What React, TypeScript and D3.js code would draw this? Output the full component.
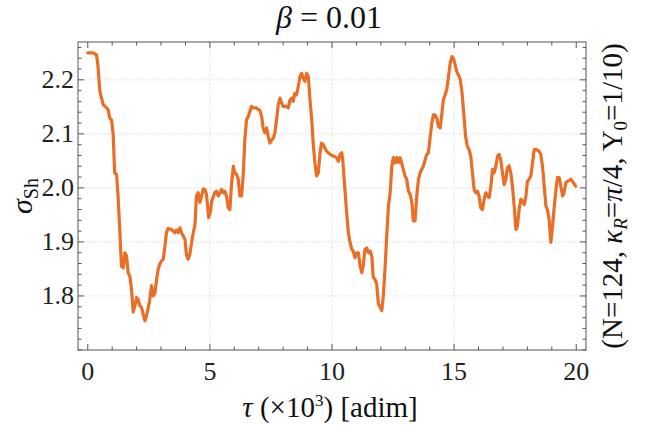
import React, { useEffect, useRef } from 'react';
import * as d3 from 'd3';

// tau (x10^3) and sigma_Sh
const tau = [
  0.0, 0.22, 0.36, 0.42, 0.49, 0.63, 0.77, 0.83, 0.9, 0.97, 1.04, 1.1, 1.18, 1.24, 1.31, 1.38, 1.45, 1.52, 1.59, 1.65,
  1.72, 1.79, 1.86, 1.93, 2.0, 2.06, 2.13, 2.2, 2.27, 2.34, 2.4, 2.47, 2.54, 2.61, 2.68, 2.75, 2.82, 2.88, 2.95, 3.02,
  3.09, 3.16, 3.22, 3.29, 3.43, 3.5, 3.57, 3.63, 3.7, 3.77, 3.84, 3.91, 3.98, 4.04, 4.11, 4.18, 4.25, 4.32, 4.39, 4.45,
  4.52, 4.59, 4.66, 4.73, 4.8, 4.86, 4.95, 5.03, 5.07, 5.2, 5.27, 5.34, 5.41, 5.48, 5.55, 5.61, 5.68, 5.75, 5.82, 5.89,
  5.96, 6.02, 6.09, 6.16, 6.23, 6.3, 6.37, 6.43, 6.5, 6.57, 6.64, 6.7, 6.77, 6.91, 7.05, 7.12, 7.18, 7.25, 7.32, 7.39,
  7.46, 7.53, 7.6, 7.66, 7.73, 7.8, 7.87, 7.94, 8.0, 8.14, 8.21, 8.28, 8.35, 8.41, 8.48, 8.55, 8.62, 8.69, 8.76, 8.82,
  8.89, 8.96, 9.03, 9.1, 9.17, 9.23, 9.3, 9.37, 9.44, 9.51, 9.57, 9.64, 9.71, 9.78, 9.92, 10.05, 10.19, 10.26, 10.33, 10.4,
  10.44, 10.53, 10.6, 10.67, 10.74, 10.81, 10.87, 10.94, 11.01, 11.08, 11.15, 11.22, 11.28, 11.35, 11.42, 11.49, 11.56, 11.63, 11.69, 11.76,
  11.83, 11.9, 11.97, 12.04, 12.1, 12.17, 12.24, 12.31, 12.38, 12.45, 12.51, 12.58, 12.65, 12.72, 12.79, 12.85, 12.92, 12.99, 13.06, 13.13,
  13.2, 13.27, 13.33, 13.4, 13.47, 13.54, 13.61, 13.67, 13.74, 13.81, 13.88, 13.95, 14.02, 14.09, 14.15, 14.22, 14.29, 14.36, 14.43, 14.5,
  14.56, 14.63, 14.7, 14.77, 14.84, 14.91, 14.97, 15.04, 15.11, 15.18, 15.25, 15.32, 15.4, 15.47, 15.54, 15.61, 15.68, 15.75, 15.82, 15.89,
  15.96, 16.02, 16.09, 16.16, 16.23, 16.3, 16.37, 16.43, 16.5, 16.57, 16.64, 16.71, 16.78, 16.84, 16.91, 16.98, 17.05, 17.12, 17.18, 17.25,
  17.32, 17.39, 17.46, 17.53, 17.59, 17.66, 17.73, 17.8, 17.87, 17.94, 18.0, 18.07, 18.14, 18.21, 18.28, 18.35, 18.48, 18.55, 18.62, 18.69,
  18.76, 18.82, 18.89, 18.96, 19.03, 19.1, 19.17, 19.23, 19.3, 19.37, 19.44, 19.5, 19.57, 19.64, 19.78, 19.85, 19.98,
];

const sigma = [
  2.25, 2.25, 2.246, 2.225, 2.18, 2.154, 2.148, 2.145, 2.129, 2.126, 2.1, 2.028, 2.025, 1.985, 1.923, 1.855, 1.852, 1.88, 1.874, 1.843,
  1.837, 1.813, 1.77, 1.782, 1.797, 1.794, 1.782, 1.779, 1.766, 1.754, 1.763, 1.776, 1.794, 1.819, 1.8, 1.806, 1.831, 1.849, 1.859, 1.865,
  1.868, 1.892, 1.917, 1.925, 1.923, 1.92, 1.917, 1.922, 1.917, 1.926, 1.917, 1.911, 1.905, 1.877, 1.868, 1.877, 1.899, 1.917, 1.932, 1.985,
  1.991, 1.973, 1.985, 1.998, 1.997, 1.988, 1.945, 1.958, 1.975, 1.991, 1.994, 1.985, 1.991, 1.997, 1.991, 1.994, 1.985, 1.963, 1.96, 2.009,
  2.04, 2.028, 2.025, 2.016, 1.985, 1.985, 2.028, 2.089, 2.126, 2.132, 2.142, 2.151, 2.148, 2.148, 2.143, 2.132, 2.111, 2.102, 2.111, 2.095,
  2.083, 2.089, 2.092, 2.102, 2.126, 2.154, 2.166, 2.157, 2.151, 2.151, 2.148, 2.163, 2.166, 2.16, 2.175, 2.172, 2.188, 2.206, 2.212, 2.203,
  2.197, 2.212, 2.206, 2.163, 2.126, 2.083, 2.046, 2.022, 2.028, 2.065, 2.083, 2.08, 2.074, 2.068, 2.062, 2.059, 2.056, 2.049, 2.062, 2.065,
  2.052, 1.997, 1.954, 1.917, 1.899, 1.886, 1.883, 1.871, 1.88, 1.88, 1.856, 1.843, 1.856, 1.886, 1.889, 1.88, 1.883, 1.874, 1.834, 1.831,
  1.822, 1.785, 1.779, 1.773, 1.8, 1.849, 1.911, 1.966, 1.991, 2.04, 2.056, 2.046, 2.056, 2.047, 2.056, 2.046, 2.034, 2.022, 2.016, 1.994,
  1.988, 1.973, 1.939, 1.939, 1.985, 2.016, 2.028, 2.034, 2.04, 2.052, 2.062, 2.065, 2.095, 2.12, 2.135, 2.135, 2.129, 2.114, 2.111, 2.138,
  2.163, 2.172, 2.182, 2.206, 2.231, 2.243, 2.24, 2.228, 2.215, 2.209, 2.2, 2.178, 2.135, 2.095, 2.077, 2.071, 2.059, 2.028, 1.997, 1.991,
  1.994, 1.985, 1.963, 1.96, 1.979, 1.991, 1.985, 1.982, 2.0, 2.034, 2.028, 2.04, 2.059, 2.062, 2.052, 2.028, 2.006, 2.016, 2.037, 2.041,
  2.028, 2.003, 1.966, 1.923, 1.929, 1.96, 1.979, 1.976, 1.969, 1.985, 2.012, 2.016, 2.022, 2.046, 2.071, 2.071, 2.068, 2.062, 2.04, 2.003,
  1.966, 1.96, 1.942, 1.899, 1.929, 1.966, 1.997, 2.019, 2.019, 2.003, 1.985, 1.991, 2.009, 2.012, 2.016, 2.012, 2.003,
];

const xMajor = [0, 5, 10, 15, 20];
const xGrid = [5, 10, 15];
const yMajor = [1.8, 1.9, 2.0, 2.1, 2.2];

const W = 645;
const H = 426;
const serif = "'Liberation Serif', 'Times New Roman', serif";

export default function App() {
  const ref = useRef<SVGSVGElement>(null);

  useEffect(() => {
    const svg = d3.select(ref.current);
    svg.selectAll('*').remove();

    const left = 78, right = 586, top = 42, bottom = 350;

    const x = d3.scaleLinear().domain([-0.4, 20.4]).range([left, right]);
    const y = d3.scaleLinear().domain([1.7, 2.27]).range([bottom, top]);

    const xMinor = d3.range(0, 21, 1).filter((d) => !xMajor.includes(d));
    const yMinor = d3.range(1.7, 2.27, 0.02).map((d) => +d.toFixed(2))
      .filter((d) => !yMajor.some((m) => Math.abs(m - d) < 1e-6));

    // grid
    const grid = svg.append('g').attr('stroke', '#c8c8c8').attr('stroke-width', 0.8).attr('stroke-dasharray', '1.2,2');
    grid.selectAll('.gx').data(xGrid).enter().append('line')
      .attr('x1', (d) => x(d)).attr('x2', (d) => x(d))
      .attr('y1', top).attr('y2', bottom);
    grid.selectAll('.gy').data(yMajor).enter().append('line')
      .attr('x1', left).attr('x2', right)
      .attr('y1', (d) => y(d)).attr('y2', (d) => y(d));

    // the curve
    const pts: [number, number][] = tau.map((t, i) => [t, sigma[i]]);
    const line = d3.line<[number, number]>().x((d) => x(d[0])).y((d) => y(d[1]));
    svg.append('path')
      .datum(pts)
      .attr('d', line)
      .attr('fill', 'none')
      .attr('stroke', '#ea6e26')
      .attr('stroke-width', 3.2)
      .attr('stroke-linejoin', 'round')
      .attr('stroke-linecap', 'round');

    // frame
    svg.append('rect')
      .attr('x', left).attr('y', top)
      .attr('width', right - left).attr('height', bottom - top)
      .attr('fill', 'none').attr('stroke', '#555').attr('stroke-width', 1);

    // ticks on all four sides, pointing in
    const tk = svg.append('g').attr('stroke', '#555').attr('stroke-width', 1);
    const xTicks = [...xMajor.map((v) => [v, 6]), ...xMinor.map((v) => [v, 3.5])];
    const yTicks = [...yMajor.map((v) => [v, 6]), ...yMinor.map((v) => [v, 3.5])];
    xTicks.forEach(([v, len]) => {
      tk.append('line').attr('x1', x(v)).attr('x2', x(v)).attr('y1', bottom).attr('y2', bottom - len);
      tk.append('line').attr('x1', x(v)).attr('x2', x(v)).attr('y1', top).attr('y2', top + len);
    });
    yTicks.forEach(([v, len]) => {
      tk.append('line').attr('x1', left).attr('x2', left + len).attr('y1', y(v)).attr('y2', y(v));
      tk.append('line').attr('x1', right).attr('x2', right - len).attr('y1', y(v)).attr('y2', y(v));
    });

    // tick labels
    svg.append('g').selectAll('text').data(xMajor).enter().append('text')
      .attr('x', (d) => x(d)).attr('y', bottom + 30)
      .attr('text-anchor', 'middle')
      .style('font-family', serif).style('font-size', '26px').attr('fill', '#222')
      .text((d) => d);
    svg.append('g').selectAll('text').data(yMajor).enter().append('text')
      .attr('x', left - 4).attr('y', (d) => y(d) + 8)
      .attr('text-anchor', 'end')
      .style('font-family', serif).style('font-size', '26px').attr('fill', '#222')
      .text((d) => d.toFixed(1));

    // title
    const title = svg.append('text')
      .attr('x', (left + right) / 2 - 3).attr('y', 28)
      .attr('text-anchor', 'middle')
      .style('font-family', serif).style('font-size', '32px').attr('fill', '#111');
    title.append('tspan').style('font-style', 'italic').text('β');
    title.append('tspan').text(' = 0.01');

    // x label
    const xl = svg.append('text')
      .attr('x', (left + right) / 2 - 2).attr('y', 417)
      .attr('text-anchor', 'middle')
      .style('font-family', serif).style('font-size', '29px').attr('fill', '#111');
    xl.append('tspan').style('font-style', 'italic').text('τ');
    xl.append('tspan').text(' (×10');
    xl.append('tspan').attr('dy', -11).style('font-size', '17px').text('3');
    xl.append('tspan').attr('dy', 11).text(') [adim]');

    // y label
    const yl = svg.append('text')
      .attr('transform', `translate(32, ${(top + bottom) / 2}) rotate(-90)`)
      .attr('text-anchor', 'middle')
      .style('font-family', serif).style('font-size', '30px').attr('fill', '#111');
    yl.append('tspan').style('font-style', 'italic').text('σ');
    yl.append('tspan').attr('dy', 6).style('font-size', '20px').text('Sh');

    // right side label
    const rl = svg.append('text')
      .attr('transform', `translate(622, ${(top + bottom) / 2}) rotate(-90)`)
      .attr('text-anchor', 'middle')
      .style('font-family', serif).style('font-size', '29px').attr('fill', '#111');
    rl.append('tspan').text('(N=124, ');
    rl.append('tspan').style('font-style', 'italic').text('κ');
    rl.append('tspan').attr('dy', 5).style('font-size', '19px').style('font-style', 'italic').text('R');
    rl.append('tspan').attr('dy', -5).text('=');
    rl.append('tspan').style('font-style', 'italic').text('π');
    rl.append('tspan').text('/4, Υ');
    rl.append('tspan').attr('dy', 5).style('font-size', '19px').text('0');
    rl.append('tspan').attr('dy', -5).text('=1/10)');
  }, []);

  return (
    <div>
      <svg
        ref={ref}
        width={W}
        height={H}
        style={{ position: 'absolute', left: 0, top: 0, background: '#fff' }}
      />
    </div>
  );
}
